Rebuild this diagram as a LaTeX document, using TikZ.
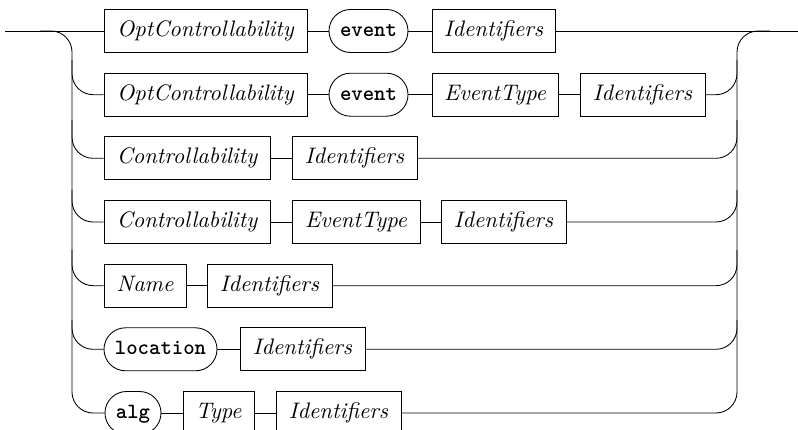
\documentclass[tikz,border=0pt]{standalone}
\usetikzlibrary{calc}
\tikzset{
  bw/.style={minimum width=#1*0.4608pt},
  nt/.style={draw, rectangle, minimum height=43*0.4608pt, inner sep=0pt,
    text height=7.2pt, text depth=2.1pt, font=\fontsize{10.35}{12.4}\selectfont\itshape},
  tm/.style={draw, rectangle, rounded corners=9.9pt, minimum height=43*0.4608pt, inner sep=0pt,
    text height=7.2pt, text depth=2.1pt, font=\ttfamily\bfseries},
  rail/.style={rounded corners=9.7pt},
}
\begin{document}
\begin{tikzpicture}[x=0.4608pt, y=-0.4608pt, line width=0.4pt]
\useasboundingbox (0,0) rectangle (798,430);
\clip (0,0) rectangle (798,430);
\fill[white] (0,0) rectangle (798,430);
% row 1
\node[nt, bw=203] (a1) at (205.5,31) {OptControllability};
\node[tm, bw=79]  (b1) at (368.5,31) {event};
\node[nt, bw=123] (c1) at (493.5,31) {Identifiers};
% row 2
\node[nt, bw=203] (a2) at (205.5,94.7) {OptControllability};
\node[tm, bw=79]  (b2) at (368.5,94.7) {event};
\node[nt, bw=126] (c2) at (495,94.7) {EventType};
\node[nt, bw=125] (d2) at (642.5,94.7) {Identifiers};
% row 3
\node[nt, bw=166] (a3) at (187,158.3) {Controllability};
\node[nt, bw=125] (b3) at (354.5,158.3) {Identifiers};
% row 4
\node[nt, bw=166] (a4) at (187,222) {Controllability};
\node[nt, bw=128] (b4) at (356,222) {EventType};
\node[nt, bw=125] (c4) at (503.5,222) {Identifiers};
% row 5
\node[nt, bw=82]  (a5) at (145,285.7) {Name};
\node[nt, bw=125] (b5) at (269.5,285.7) {Identifiers};
% row 6
\node[tm, bw=113] (a6) at (160.5,349.3) {location};
\node[nt, bw=125] (b6) at (302.5,349.3) {Identifiers};
% row 7
\node[tm, bw=56]  (a7) at (133,413) {alg};
\node[nt, bw=71]  (b7) at (218.5,413) {Type};
\node[nt, bw=125] (c7) at (338.5,413) {Identifiers};
% entry / exit
\coordinate (in) at (5,31);
\coordinate (out) at (798,31);
\coordinate (lt) at (40,31);
\coordinate (rt) at (770,31);
% connectors along rows
\draw (in) -- (a1.west);
\draw (a1.east) -- (b1.west) (b1.east) -- (c1.west) (c1.east) -- (out);
\draw (a2.east) -- (b2.west) (b2.east) -- (c2.west) (c2.east) -- (d2.west);
\draw (a3.east) -- (b3.west);
\draw (a4.east) -- (b4.west) (b4.east) -- (c4.west);
\draw (a5.east) -- (b5.west);
\draw (a6.east) -- (b6.west);
\draw (a7.east) -- (b7.west) (b7.east) -- (c7.west);
% left rail
\draw[rail] (lt) -| (72,413) -- (a7.west);
\draw[rail] (72,60) |- (a2.west);
\draw[rail] (72,120) |- (a3.west);
\draw[rail] (72,190) |- (a4.west);
\draw[rail] (72,250) |- (a5.west);
\draw[rail] (72,320) |- (a6.west);
% right rail
\draw[rail] (c7.east) -| (737,31) -- (rt);
\draw[rail] (d2.east) -| (737,60);
\draw[rail] (b3.east) -| (737,120);
\draw[rail] (c4.east) -| (737,190);
\draw[rail] (b5.east) -| (737,250);
\draw[rail] (b6.east) -| (737,320);
\end{tikzpicture}
\end{document}
